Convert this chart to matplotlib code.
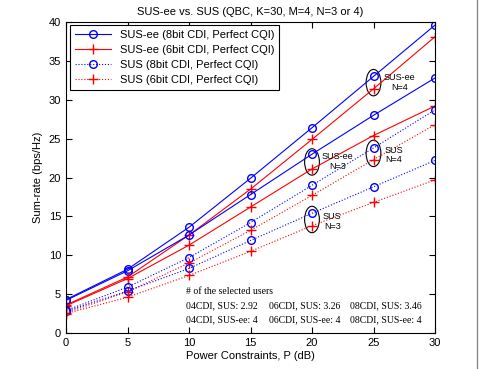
import matplotlib
matplotlib.use("Agg")
import matplotlib.pyplot as plt
from matplotlib.patches import Ellipse
from matplotlib.lines import Line2D

plt.rcParams['font.family'] = ['Liberation Sans', 'DejaVu Sans']

x = [0, 5, 10, 15, 20, 25, 30]
sus_ee_8bit_n4 = [4.3, 8.2, 13.6, 19.9, 26.4, 33.0, 39.6]
sus_ee_6bit_n4 = [3.6, 7.2, 12.6, 18.5, 24.9, 31.4, 38.1]
sus_ee_8bit_n3 = [4.2, 8.0, 12.6, 17.8, 23.0, 28.0, 32.8]
sus_ee_6bit_n3 = [3.5, 7.0, 11.3, 16.2, 21.1, 25.4, 29.2]
sus_8bit_n4 = [2.9, 5.9, 9.7, 14.2, 19.0, 23.8, 28.7]
sus_6bit_n4 = [2.6, 5.3, 9.0, 13.2, 17.7, 22.3, 26.8]
sus_8bit_n3 = [2.8, 5.4, 8.3, 11.9, 15.4, 18.8, 22.2]
sus_6bit_n3 = [2.5, 4.6, 7.4, 10.5, 13.8, 16.8, 19.7]

labels = ['SUS-ee (8bit CDI, Perfect CQI)', 'SUS-ee (6bit CDI, Perfect CQI)',
          'SUS (8bit CDI, Perfect CQI)', 'SUS (6bit CDI, Perfect CQI)']

fig = plt.figure(figsize=(4.79, 3.69), dpi=100)
ax = fig.add_axes([66/479, 1-333/369, (435-66)/479, (333-22)/369])

lw = 0.8
ms = 5.5
h1, = ax.plot(x, sus_ee_8bit_n4, '-', color='b', marker='o', mfc='none', lw=lw, ms=ms, label=labels[0])
h2, = ax.plot(x, sus_ee_6bit_n4, '-', color='r', marker='+', lw=lw, ms=ms + 1, label=labels[1])
ax.plot(x, sus_ee_8bit_n3, '-', color='b', marker='o', mfc='none', lw=lw, ms=ms)
ax.plot(x, sus_ee_6bit_n3, '-', color='r', marker='+', lw=lw, ms=ms + 1)
h3, = ax.plot(x, sus_8bit_n4, ':', color='b', marker='o', mfc='none', lw=lw, ms=ms, label=labels[2])
h4, = ax.plot(x, sus_6bit_n4, ':', color='r', marker='+', lw=lw, ms=ms + 1, label=labels[3])
ax.plot(x, sus_8bit_n3, ':', color='b', marker='o', mfc='none', lw=lw, ms=ms)
ax.plot(x, sus_6bit_n3, ':', color='r', marker='+', lw=lw, ms=ms + 1)

ax.set_xlim(0, 30)
ax.set_ylim(0, 40)
ax.set_xticks(range(0, 31, 5))
ax.set_yticks(range(0, 41, 5))
ax.tick_params(direction='in', top=True, right=True, labelsize=8, length=4, width=0.8)
for s in ax.spines.values():
    s.set_linewidth(0.8)
ax.set_xlabel('Power Constraints, P (dB)', fontsize=8, labelpad=2)
ax.set_ylabel('Sum-rate (bps/Hz)', fontsize=8, labelpad=4)
ax.set_title('SUS-ee vs. SUS (QBC, K=30, M=4, N=3 or 4)', fontsize=8, pad=5)

leg = ax.legend(handles=[h1, h2, h3, h4], loc='upper left', bbox_to_anchor=(0.011, 0.99),
                borderaxespad=0, fontsize=8, fancybox=False, edgecolor='black',
                framealpha=1, handlelength=3.2, labelspacing=0.45, borderpad=0.45)
leg.get_frame().set_linewidth(0.8)

# Ellipses and group labels
ell_w, ell_h = 1.2, 3.4
groups = [
    (25, 32.2, 'SUS-ee\nN=4', 27.1, 32.2),
    (20, 22.0, 'SUS-ee\nN=3', 22.1, 22.1),
    (25, 23.1, 'SUS\nN=4', 26.65, 22.9),
    (20, 14.6, 'SUS\nN=3', 21.65, 14.3),
]
for ex, ey, t, tx, ty in groups:
    ax.add_patch(Ellipse((ex, ey), ell_w, ell_h, fill=False, ec='black', lw=0.8))
    ax.text(tx, ty, t, fontsize=6.5, ha='center', va='center', linespacing=1.1)

serif = ['Liberation Serif', 'DejaVu Serif']
ax.text(9.75, 5.4, '# of the selected users', family=serif, fontsize=7, va='center')
rows = [
    ['04CDI, SUS: 2.92', '06CDI, SUS: 3.26', '08CDI, SUS: 3.46'],
    ['04CDI, SUS-ee: 4', '06CDI, SUS-ee: 4', '08CDI, SUS-ee: 4'],
]
col_x = [9.75, 16.5, 23.1]
row_y = [3.5, 1.7]
for r, yy in zip(rows, row_y):
    for c, xx in zip(r, col_x):
        ax.text(xx, yy, c, family=serif, fontsize=7, va='center')

fig.add_artist(Line2D([477/479, 477/479], [0, 1], color='#888888', lw=1.0))

fig.savefig('out.png', dpi=100)
